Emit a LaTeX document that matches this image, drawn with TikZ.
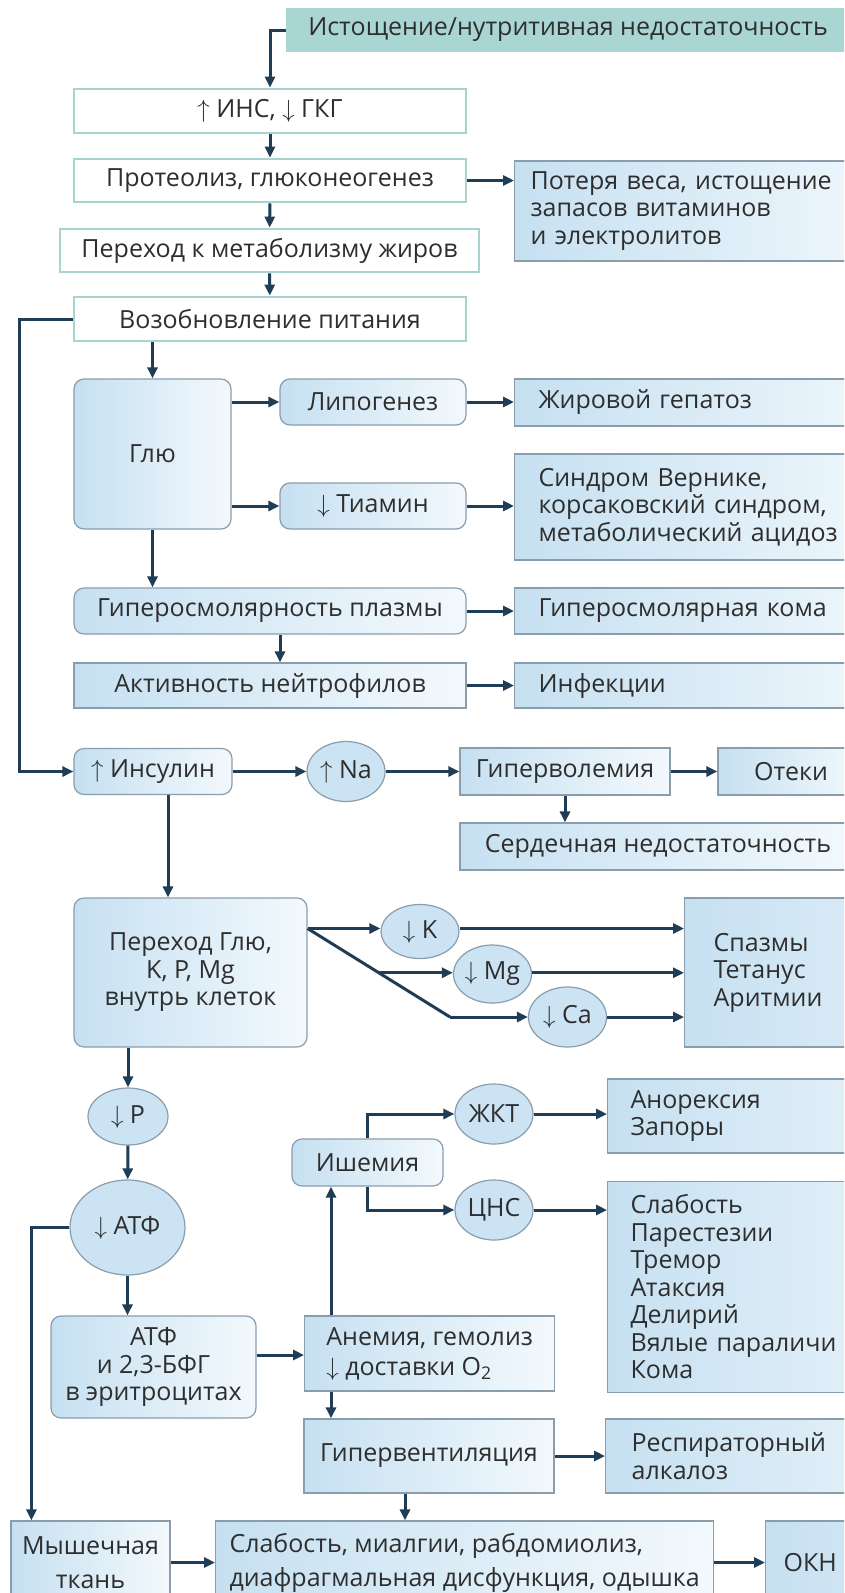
\documentclass[tikz,border=0pt]{standalone}
\usepackage{fontspec}
\setmainfont{Open Sans}
\usetikzlibrary{calc,arrows.meta,shapes.geometric}

\definecolor{linecol}{HTML}{1F3D56}
\definecolor{tealfill}{HTML}{A9D6D2}
\definecolor{tealline}{HTML}{A9D3D1}
\definecolor{boxline}{HTML}{8A9DAD}
\definecolor{blueA}{HTML}{C6E0F1}
\definecolor{blueB}{HTML}{F3F9FD}
\definecolor{ovalfill}{HTML}{CBE3F3}
\definecolor{txt}{HTML}{2E2E2E}

\newcommand{\uparr}{\ensuremath{\uparrow}}
\newcommand{\dnarr}{\ensuremath{\downarrow}}

\begin{document}
\begin{tikzpicture}[
		x=1pt, y=-1pt,
		every node/.style={font=\fontsize{25}{27.5}\selectfont, text=txt},
		arr/.style={draw=linecol, line width=3pt, -{Triangle[length=11pt,width=10pt]}},
		line/.style={draw=linecol, line width=3pt},
		topbox/.style={fill=tealfill, inner sep=0pt},
		wbox/.style={draw=tealline, line width=2.8pt, fill=white, inner sep=0pt},
		bbox/.style={draw=boxline, line width=1.2pt, left color=blueA, right color=blueB, inner sep=0pt},
		rbox/.style={bbox, rounded corners=10pt},
		lbox/.style={bbox, anchor=west, align=left, inner xsep=20pt, text width=360pt},
		oval/.style={ellipse, draw=boxline, line width=1.2pt, fill=ovalfill, inner xsep=-6pt, inner ysep=0pt, minimum width=78pt, minimum height=58pt}
		]
		
		\useasboundingbox (0,0) rectangle (844,1593);
		\clip (0,0) rectangle (844,1593);
		\fill[white] (0,0) rectangle (844,1593);
		
		% -------------------------------------------------
		% Starvation, then refeeding
		% -------------------------------------------------
		\node[topbox, minimum width=564pt, minimum height=44pt] (starv) at (568,30) {Истощение/нутритивная недостаточность};
		\node[wbox, minimum width=392pt, minimum height=44pt] (hormones) at (270,111) {\uparr{} ИНС, \dnarr{} ГКГ};
		\node[wbox, minimum width=392pt, minimum height=43pt] (proteol) at (270,180.5) {Протеолиз, глюконеогенез};
		\node[lbox, minimum height=100pt, inner xsep=16pt] (loss) at (514,211) {Потеря веса, истощение\\запасов витаминов\\и электролитов};
		\node[wbox, minimum width=419pt, minimum height=43pt] (fatmet) at (269.5,250.5) {Переход к метаболизму жиров};
		\node[wbox, minimum width=392pt, minimum height=44pt] (refeed) at (270,319) {Возобновление питания};
		
		\draw[arr] (starv.west) -| (hormones.north);
		\draw[arr] (hormones) -- (proteol);
		\draw[arr] (proteol.east) -- (proteol.east -| loss.west);
		\draw[arr] (proteol) -- (fatmet);
		\draw[arr] (fatmet) -- (refeed);
		
		% -------------------------------------------------
		% Glucose branch
		% -------------------------------------------------
		\node[rbox, minimum width=157pt, minimum height=150pt] (glu) at (152.5,454) {Глю};
		\node[rbox, minimum width=186pt, minimum height=46pt] (lipo) at (373,402) {Липогенез};
		\node[lbox, minimum height=47pt, inner xsep=24pt] (hepat) at (514,402.5) {Жировой гепатоз};
		\node[rbox, minimum width=186pt, minimum height=46pt] (thiam) at (373,506) {\dnarr{} Тиамин};
		\node[lbox, minimum height=106pt, inner xsep=24pt] (wern) at (514,507) {Синдром Вернике,\\корсаковский синдром,\\метаболический ацидоз};
		\node[rbox, minimum width=392pt, minimum height=46pt] (osmol) at (270,611) {Гиперосмолярность плазмы};
		\node[lbox, minimum height=46pt, inner xsep=24pt] (coma) at (514,611) {Гиперосмолярная кома};
		\node[bbox, minimum width=392pt, minimum height=45pt] (neutro) at (270,685.5) {Активность нейтрофилов};
		\node[lbox, minimum height=45pt, inner xsep=24pt] (infect) at (514,685.5) {Инфекции};
		
		\draw[arr] (glu.north |- refeed.south) -- (glu.north);
		\draw[arr] (glu.east |- lipo) -- (lipo);
		\draw[arr] (lipo) -- (lipo -| hepat.west);
		\draw[arr] (glu.east |- thiam) -- (thiam);
		\draw[arr] (thiam) -- (thiam -| wern.west);
		\draw[arr] (glu) -- (glu |- osmol.north);
		\draw[arr] (osmol) -- (coma);
		\draw[arr] ([xshift=10pt]osmol.south) -- ([xshift=10pt]neutro.north);
		\draw[arr] (neutro) -- (infect);
		
		% -------------------------------------------------
		% Insulin and sodium
		% -------------------------------------------------
		\node[rbox, minimum width=158pt, minimum height=46pt] (insul) at (153,771.5) {\uparr{} Инсулин};
		\node[oval, minimum height=60pt] (natr) at (346,771.5) {\uparr{} Na};
		\node[bbox, minimum width=210pt, minimum height=47pt] (hypervol) at (565,771.5) {Гиперволемия};
		\node[bbox, minimum width=146pt, minimum height=47pt] (edema) at (791,771.5) {Отеки};
		\node[bbox, minimum width=396pt, minimum height=47pt] (heart) at (658,846.5) {Сердечная недостаточность};
		
		\draw[arr] (refeed.west) -- ++(-53,0) |- (insul);
		\draw[arr] (insul) -- (natr);
		\draw[arr] (natr) -- (hypervol);
		\draw[arr] (hypervol) -- (edema);
		\draw[arr] (hypervol) -- (hypervol |- heart.north);
		
		% -------------------------------------------------
		% Shift into the cells: K, Mg, Ca
		% -------------------------------------------------
		\node[rbox, minimum width=233pt, minimum height=149pt, align=center] (uptake) at (190.5,972.5) {Переход Глю,\\K, P, Mg\\внутрь клеток};
		\node[oval, minimum height=54pt] (potas) at (420,931.5) {\dnarr{} K};
		\node[oval] (magn) at (492.5,974) {\dnarr{} Mg};
		\node[oval, minimum height=60pt] (calcium) at (567.5,1017) {\dnarr{} Ca};
		\node[lbox, minimum height=149pt, inner xsep=29pt] (spasm) at (684,972.5) {Спазмы\\Тетанус\\Аритмии};
		\coordinate (fork) at ([yshift=44pt]uptake.east);
		\coordinate (bend) at (450,1017);
		\coordinate (mgfork) at ($(fork)!0.5!(bend)$);
		
		\draw[arr] ([xshift=15pt]insul.south) -- ([xshift=15pt]insul.south |- uptake.north);
		\draw[arr] (fork) -- (fork -| potas.west);
		\draw[arr] (potas.east |- fork) -- (fork -| spasm.west);
		\draw[line] (fork) -- (bend);
		\draw[arr] (mgfork) -- (mgfork -| magn.west);
		\draw[arr] (magn.east |- mgfork) -- (mgfork -| spasm.west);
		\draw[arr] (bend) -- (calcium);
		\draw[arr] (calcium) -- (calcium -| spasm.west);
		
		% -------------------------------------------------
		% Phosphate and ATP
		% -------------------------------------------------
		\node[oval, minimum width=80pt, minimum height=57pt] (phos) at (128,1116.5) {\dnarr{} P};
		\node[oval, minimum width=115pt, minimum height=95pt] (atp) at (127.5,1227.5) {\dnarr{} АТФ};
		\node[rbox, minimum width=205pt, minimum height=102pt, align=center] (rbc) at (153.5,1367) {АТФ\\и 2,3-БФГ\\в эритроцитах};
		\node[bbox, anchor=west, align=left, minimum width=250pt, minimum height=75pt, font=\fontsize{25}{30}\selectfont] (anem) at (304,1353.5) {Анемия, гемолиз\\\dnarr{} доставки O\textsubscript{2}};
		\node[rbox, minimum width=151pt, minimum height=47pt] (isch) at (367.5,1162.5) {Ишемия};
		\node[oval, minimum height=60pt] (gi) at (494,1114) {ЖКТ};
		\node[oval, minimum height=60pt] (cns) at (494,1210) {ЦНС};
		\node[lbox, minimum height=74pt, inner xsep=23pt] (anor) at (607,1116) {Анорексия\\Запоры};
		\node[lbox, minimum height=211pt, inner xsep=23pt] (neuro) at (607,1287) {Слабость\\Парестезии\\Тремор\\Атаксия\\Делирий\\Вялые параличи\\Кома};
		\node[bbox, minimum width=250pt, minimum height=74pt] (hypervent) at (429,1456) {Гипервентиляция};
		\node[lbox, minimum height=74pt, inner xsep=26pt] (resp) at (605,1456) {Респираторный\\алкалоз};
		\node[bbox, minimum width=159pt, minimum height=83pt, align=center, font=\fontsize{25}{34}\selectfont] (muscle) at (90.5,1562.5) {Мышечная\\ткань};
		\node[bbox, anchor=west, align=left, minimum width=498pt, minimum height=83pt, font=\fontsize{25}{34}\selectfont] (myal) at (215,1562.5) {Слабость, миалгии, рабдомиолиз,\\диафрагмальная дисфункция, одышка};
		\node[lbox, minimum height=83pt, inner xsep=18pt] (okn) at (765,1562.5) {ОКН};
		
		\draw[arr] (phos.north |- uptake.south) -- (phos);
		\draw[arr] (phos) -- (atp);
		\draw[arr] (atp) -| ([xshift=21pt]muscle.north west);
		\draw[arr] (atp) -- (atp |- rbc.north);
		\draw[arr] ([yshift=12pt]rbc.east) -- ([yshift=12pt]rbc.east -| anem.west);
		\draw[arr] ([xshift=27pt]anem.north west) -- ([xshift=27pt]anem.north west |- isch.south);
		\draw[arr] (isch) |- (gi);
		\draw[arr] (isch) |- (cns);
		\draw[arr] (gi) -- (gi -| anor.west);
		\draw[arr] (cns) -- (cns -| neuro.west);
		\draw[arr] ([xshift=27pt]anem.south west) -- ([xshift=27pt]anem.south west |- hypervent.north);
		\draw[arr] (hypervent) -- (hypervent -| resp.west);
		\draw[arr] ([xshift=-24pt]hypervent.south) -- ([xshift=-24pt]hypervent.south |- myal.north);
		\draw[arr] (muscle) -- (myal);
		\draw[arr] (myal) -- (okn);
		
	\end{tikzpicture}
\end{document}
